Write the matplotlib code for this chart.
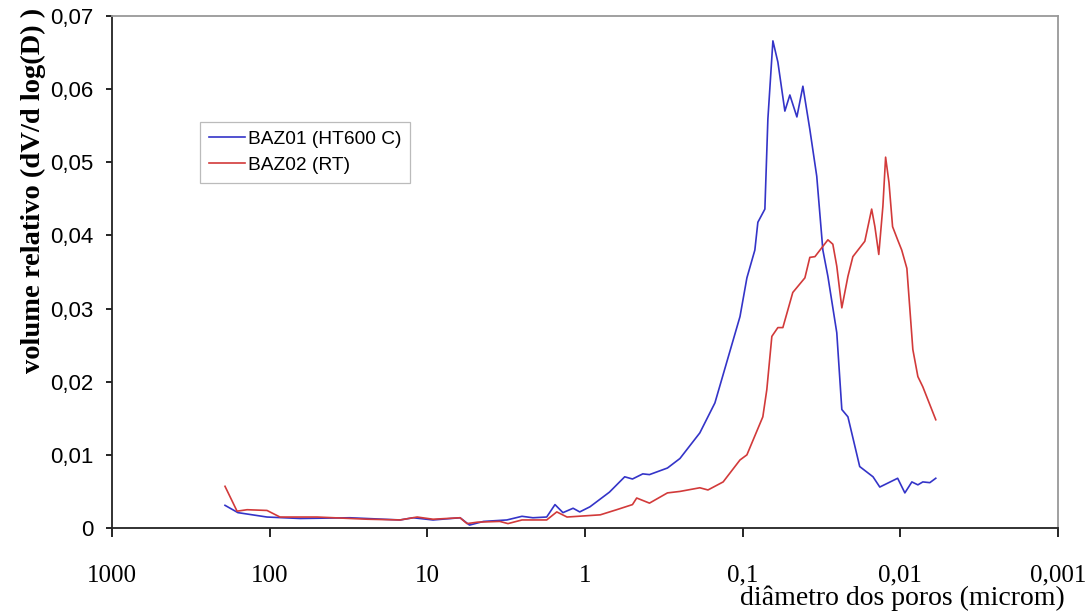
import matplotlib.pyplot as plt
from matplotlib.ticker import FixedLocator, FixedFormatter, NullLocator

# BAZ01 (HT600 C) - diameter (microm) / relative volume
baz01_d = [192, 159, 104, 64, 31, 14.9, 12.3, 9.2, 6.2, 5.4, 4.4, 3.13, 2.51, 2.14,
           1.75, 1.55, 1.38, 1.19, 1.08, 0.93, 0.70, 0.56, 0.50, 0.43, 0.39, 0.30,
           0.25, 0.187, 0.150, 0.104, 0.094, 0.0837, 0.0801, 0.0723, 0.0692, 0.0643,
           0.0598, 0.0540, 0.0502, 0.0453, 0.0415, 0.0375, 0.0339, 0.0310, 0.0288,
           0.0253, 0.0235, 0.0215, 0.0181, 0.0149, 0.0135, 0.0104, 0.00936, 0.00845,
           0.00774, 0.00720, 0.00650, 0.00596]
baz01_v = [0.0031, 0.0021, 0.0015, 0.0013, 0.0014, 0.0011, 0.0014, 0.0011, 0.0014,
           0.0004, 0.0009, 0.0011, 0.0016, 0.0014, 0.0015, 0.0032, 0.0021, 0.0027,
           0.0022, 0.0029, 0.0049, 0.0070, 0.0067, 0.0074, 0.0073, 0.0082, 0.0095,
           0.0130, 0.0171, 0.0289, 0.0342, 0.0380, 0.0418, 0.0436, 0.0559, 0.0666,
           0.0637, 0.0570, 0.0592, 0.0562, 0.0604, 0.0545, 0.0481, 0.0380, 0.0344,
           0.0267, 0.0162, 0.0152, 0.0084, 0.0070, 0.0056, 0.0068, 0.0048, 0.0063,
           0.0059, 0.0063, 0.0062, 0.0068]

# BAZ02 (RT)
baz02_d = [192, 161, 139, 104, 86, 50, 24, 14.9, 11.6, 9.2, 6.2, 5.6, 4.8, 3.47,
           3.08, 2.51, 1.75, 1.51, 1.30, 0.80, 0.63, 0.50, 0.47, 0.39, 0.30, 0.25,
           0.187, 0.166, 0.133, 0.104, 0.094, 0.0745, 0.0703, 0.0653, 0.0598, 0.0556,
           0.0481, 0.0403, 0.0375, 0.0348, 0.0288, 0.0268, 0.0253, 0.0235, 0.0215,
           0.0200, 0.0168, 0.0152, 0.0145, 0.0137, 0.0129, 0.0124, 0.0118, 0.0112,
           0.0104, 0.0098, 0.00909, 0.00833, 0.00774, 0.00720, 0.00596]
baz02_v = [0.0057, 0.0023, 0.0025, 0.0024, 0.0015, 0.0015, 0.0012, 0.0011, 0.0015,
           0.0012, 0.0014, 0.0006, 0.0008, 0.0009, 0.0006, 0.0011, 0.0011, 0.0022,
           0.0015, 0.0018, 0.0025, 0.0032, 0.0041, 0.0034, 0.0048, 0.0050, 0.0055,
           0.0052, 0.0063, 0.0093, 0.0100, 0.0152, 0.0189, 0.0262, 0.0274, 0.0274,
           0.0322, 0.0342, 0.0370, 0.0371, 0.0394, 0.0388, 0.0358, 0.0301, 0.0344,
           0.0371, 0.0392, 0.0436, 0.0412, 0.0374, 0.0440, 0.0507, 0.0472, 0.0412,
           0.0394, 0.0380, 0.0355, 0.0244, 0.0207, 0.0193, 0.0148]

x_ticks = [1000, 100, 10, 1, 0.1, 0.01, 0.001]
x_labels = ['1000', '100', '10', '1', '0,1', '0,01', '0,001']
y_ticks = [0, 0.01, 0.02, 0.03, 0.04, 0.05, 0.06, 0.07]
y_labels = ['0', '0,01', '0,02', '0,03', '0,04', '0,05', '0,06', '0,07']

fig = plt.figure(figsize=(10.9, 6.13), dpi=100)
ax = fig.add_axes([112/1090, 1-528/613, 946/1090, 512/613])

ax.plot(baz01_d, baz01_v, color='#3434c8', lw=1.2, label='BAZ01 (HT600 C)')
ax.plot(baz02_d, baz02_v, color='#d23a3a', lw=1.2, label='BAZ02 (RT)')

ax.set_xscale('log')
ax.set_xlim(1000, 0.001)
ax.set_ylim(0, 0.07)

ax.xaxis.set_major_locator(FixedLocator(x_ticks))
ax.xaxis.set_major_formatter(FixedFormatter(x_labels))
ax.xaxis.set_minor_locator(NullLocator())
ax.set_yticks(y_ticks)
ax.set_yticklabels(y_labels)

ax.tick_params(axis='x', direction='out', length=6.5, width=1.2, pad=20,
               labelsize=18, labelfontfamily='Liberation Serif')
ax.tick_params(axis='y', direction='out', length=4.5, width=1.2, pad=9,
               labelsize=16, labelfontfamily='Liberation Sans')

ax.spines['left'].set_color('#222222')
ax.spines['bottom'].set_color('#222222')
ax.spines['left'].set_linewidth(1.3)
ax.spines['bottom'].set_linewidth(1.3)
for s in ['top', 'right']:
    ax.spines[s].set_color('#999999')
    ax.spines[s].set_linewidth(1.3)

leg = ax.legend(loc='upper left', bbox_to_anchor=(0.093, 0.793), borderaxespad=0,
                fancybox=False, framealpha=1, edgecolor='#bbbbbb', borderpad=0.45,
                handlelength=1.9, handletextpad=0.15, labelspacing=0.45,
                prop={'family': 'Liberation Sans', 'size': 13.8})
leg.get_frame().set_linewidth(0.9)

fig.text(1065/1090, 1-598/613, 'diâmetro dos poros (microm)', ha='right', va='center',
         fontsize=20, family='Liberation Serif')
fig.text(33/1090, 1-8/613, 'volume relativo (dV/d log(D) )', ha='center', va='top',
         rotation=90, fontsize=20.5, fontweight='bold', family='Liberation Serif')

fig.savefig('out.png', dpi=100)
